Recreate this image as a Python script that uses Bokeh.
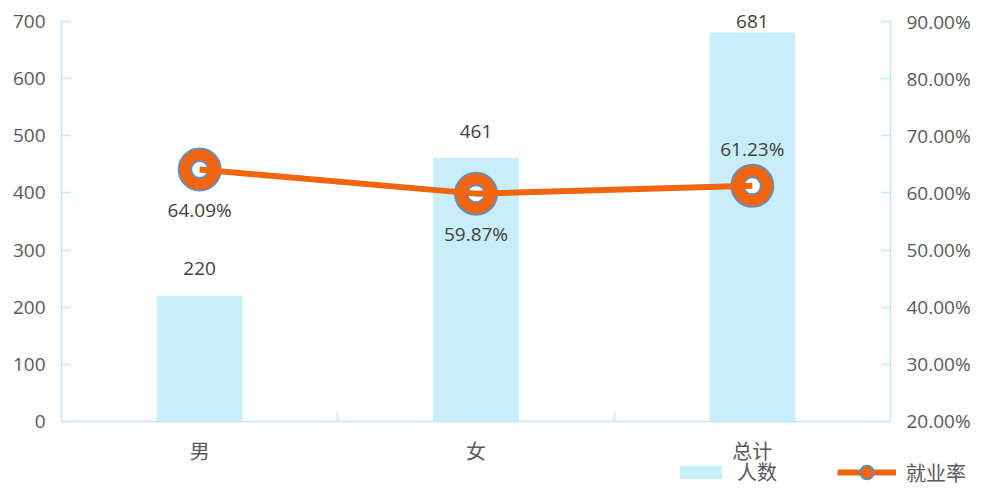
from bokeh.plotting import figure
from bokeh.models import Range1d, LinearAxis, FixedTicker, NumeralTickFormatter, Legend, LegendItem
from bokeh.core.properties import value
from bokeh.embed import file_html
from bokeh.resources import INLINE

categories = ["男", "女", "总计"]
counts = [220, 461, 681]
rates = [0.6409, 0.5987, 0.6123]
count_labels = ["220", "461", "681"]
rate_labels = ["64.09%", "59.87%", "61.23%"]
rate_label_side = ["below", "below", "above"]
left_ticks = [0, 100, 200, 300, 400, 500, 600, 700]
right_ticks = [0.2, 0.3, 0.4, 0.5, 0.6, 0.7, 0.8, 0.9]
legend_labels = ["人数", "就业率"]

NUM_FONT = "Open Sans"
CJK_FONT = "Noto Sans CJK SC"
AXIS_COLOR = "#bfe8f5"
TEXT_COLOR = "#595959"
BAR_COLOR = "#c8eefa"
LINE_COLOR = "#f0650e"
RING_COLOR = "#6a8db8"

Y_MAX = 700
PX_PER_UNIT = 399 / Y_MAX
HEADROOM = 20 / PX_PER_UNIT     # room above the axis top so labels are not clipped
FOOTROOM = 67 / PX_PER_UNIT     # room below zero for category labels and legend
R_SCALE = 0.7 / Y_MAX           # right-axis units per left-axis unit
N = len(categories)
PX_PER_CAT = 829 / N
X_EXTRA = 92 / PX_PER_CAT       # room right of the plot for the right axis labels / legend

xs = [i + 0.5 for i in range(N)]

p = figure(width=982, height=488, output_backend="svg", toolbar_location=None,
           x_range=Range1d(0, N + X_EXTRA), y_range=Range1d(-FOOTROOM, Y_MAX + HEADROOM),
           x_axis_location=None,
           min_border_left=61, min_border_right=0, min_border_top=1, min_border_bottom=0)
p.extra_y_ranges = {"rate": Range1d(0.2 - FOOTROOM * R_SCALE, 0.9 + HEADROOM * R_SCALE)}
p.outline_line_color = None
p.grid.visible = False
p.background_fill_color = "white"
p.border_fill_color = "white"

# bottom (category) axis, drawn at y = 0
xa = LinearAxis(fixed_location=0, bounds=(0, N))
xa.ticker = FixedTicker(ticks=xs, minor_ticks=[float(i) for i in range(1, N)])
xa.major_label_overrides = {x: c for x, c in zip(xs, categories)}
xa.major_tick_line_color = None
xa.minor_tick_in = 9
xa.minor_tick_out = 0
xa.minor_tick_line_color = AXIS_COLOR
xa.minor_tick_line_width = 1.5
xa.axis_line_color = AXIS_COLOR
xa.axis_line_width = 1.5
xa.major_label_text_font = CJK_FONT
xa.major_label_text_font_size = "20px"
xa.major_label_text_color = TEXT_COLOR
xa.major_label_standoff = 9
p.add_layout(xa, "below")

# left axis
ya = p.yaxis[0]
ya.ticker = FixedTicker(ticks=left_ticks)
ya.bounds = (0, Y_MAX)
ya.major_tick_in = 9
ya.major_tick_out = 0
ya.minor_tick_line_color = None
ya.major_tick_line_color = AXIS_COLOR
ya.major_tick_line_width = 1.5
ya.axis_line_color = AXIS_COLOR
ya.axis_line_width = 1.5
ya.major_label_text_font = NUM_FONT
ya.major_label_text_font_size = "19px"
ya.major_label_text_color = TEXT_COLOR
ya.major_label_standoff = 16

# right axis, drawn at the right end of the categories
ra = LinearAxis(y_range_name="rate", ticker=FixedTicker(ticks=right_ticks),
                formatter=NumeralTickFormatter(format="0.00%"), bounds=(0.2, 0.9),
                fixed_location=N)
ra.major_tick_in = 9
ra.major_tick_out = 0
ra.minor_tick_line_color = None
ra.major_tick_line_color = AXIS_COLOR
ra.major_tick_line_width = 1.5
ra.axis_line_color = AXIS_COLOR
ra.axis_line_width = 1.5
ra.major_label_text_font = NUM_FONT
ra.major_label_text_font_size = "19px"
ra.major_label_text_color = TEXT_COLOR
ra.major_label_standoff = 16
p.add_layout(ra, "right")

bars = p.vbar(x=xs, top=counts, width=0.31, fill_color=BAR_COLOR, line_color=None)
count_offs = [-min(27, (Y_MAX - c) * PX_PER_UNIT) for c in counts]
p.text(x=xs, y=counts, text=count_labels, text_align="center", text_baseline="middle",
       y_offset=count_offs, text_font=value(NUM_FONT), text_font_size="19px", text_color="#404040")

outer = p.scatter(x=xs, y=rates, y_range_name="rate", size=42, fill_color=LINE_COLOR,
                  line_color=RING_COLOR, line_width=2)
inner = p.scatter(x=xs, y=rates, y_range_name="rate", size=17, fill_color="white",
                  line_color=RING_COLOR, line_width=2)
line = p.line(x=xs, y=rates, y_range_name="rate", line_color=LINE_COLOR, line_width=6)

offs = [40 if s == "below" else -37 for s in rate_label_side]
p.text(x=xs, y=rates, y_range_name="rate", text=rate_labels, text_align="center",
       text_baseline="middle", y_offset=offs, text_font=value(NUM_FONT),
       text_font_size="19px", text_color="#404040")

common = dict(orientation="horizontal", label_text_font=CJK_FONT,
              label_text_font_size="20px", label_text_color=TEXT_COLOR,
              background_fill_alpha=0, border_line_color=None, padding=0, margin=0,
              label_standoff=10, label_height=16)
legend1 = Legend(items=[LegendItem(label=legend_labels[0], renderers=[bars])],
                 location=(613, 2), glyph_width=53, glyph_height=16, **common)
legend2 = Legend(items=[LegendItem(label=legend_labels[1], renderers=[line, outer])],
                 location=(776, -1), glyph_width=59, glyph_height=34, **common)
p.add_layout(legend1)
p.add_layout(legend2)

open("out.html", "w").write(file_html(p, INLINE))
